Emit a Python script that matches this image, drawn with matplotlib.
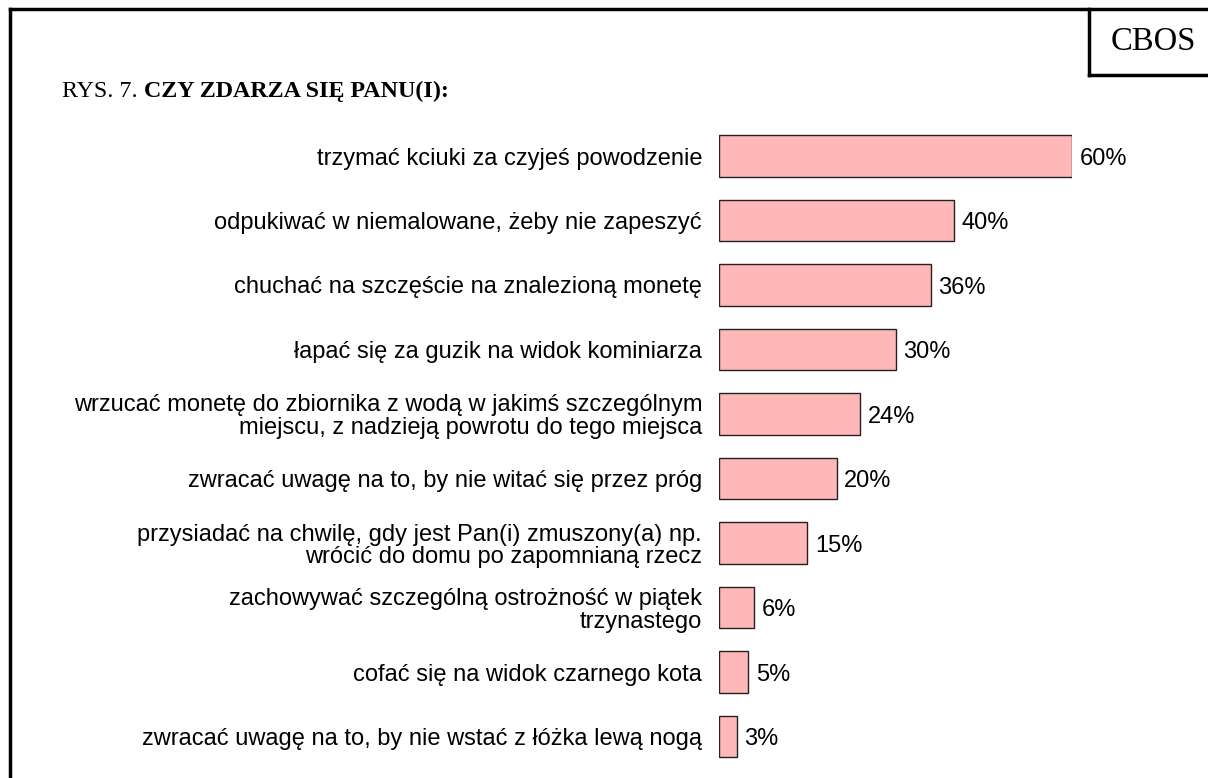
import matplotlib
matplotlib.use("Agg")
import matplotlib.pyplot as plt
from matplotlib.lines import Line2D

categories = [
    "trzymać kciuki za czyjeś powodzenie",
    "odpukiwać w niemalowane, żeby nie zapeszyć",
    "chuchać na szczęście na znalezioną monetę",
    "łapać się za guzik na widok kominiarza",
    "wrzucać monetę do zbiornika z wodą w jakimś szczególnym\nmiejscu, z nadzieją powrotu do tego miejsca",
    "zwracać uwagę na to, by nie witać się przez próg",
    "przysiadać na chwilę, gdy jest Pan(i) zmuszony(a) np.\nwrócić do domu po zapomnianą rzecz",
    "zachowywać szczególną ostrożność w piątek\ntrzynastego",
    "cofać się na widok czarnego kota",
    "zwracać uwagę na to, by nie wstać z łóżka lewą nogą",
]
values = [60, 40, 36, 30, 24, 20, 15, 6, 5, 3]
value_labels = [f"{v}%" for v in values]

W, H = 1208, 778
fig = plt.figure(figsize=(W / 100, H / 100), dpi=100)
fig.patch.set_facecolor("white")

def fx(px):
    return px / W

def fy(py):
    return 1 - py / H

# axes geometry (pixels)
x0, x60 = 719, 1072
yc0, step = 156, 64.5
top = yc0 - step / 2
bottom = yc0 + 9 * step + step / 2
ax = fig.add_axes([fx(x0), fy(bottom), fx(x60) - fx(x0), fy(top) - fy(bottom)])
ax.set_xlim(0, 60)
ax.set_ylim(len(values) - 0.5, -0.5)
ypos = list(range(len(values)))
ax.barh(ypos, values, height=0.65, color="#FFB7B7", edgecolor="#222222", linewidth=1.0)

ax.set_yticks(ypos)
ax.set_yticklabels(categories, fontsize=17, family="Liberation Sans", linespacing=1.05)
ax.tick_params(axis="y", length=0, pad=12.2)
ax.set_xticks([])
for s in ax.spines.values():
    s.set_visible(False)

for y, v, lab in zip(ypos, values, value_labels):
    ax.annotate(lab, xy=(v, y), xytext=(5.5, -2), textcoords="offset points",
                ha="left", va="center", fontsize=17, family="Liberation Sans")

# frame
lw = 2.5
fig.add_artist(Line2D([fx(10), fx(10)], [fy(9), fy(H + 5)], color="black", lw=lw, transform=fig.transFigure))
fig.add_artist(Line2D([fx(10), fx(W + 5)], [fy(9), fy(9)], color="black", lw=lw, transform=fig.transFigure))
# CBOS box
fig.add_artist(Line2D([fx(1089), fx(1089)], [fy(9), fy(75)], color="black", lw=lw, transform=fig.transFigure))
fig.add_artist(Line2D([fx(1089), fx(W + 5)], [fy(75), fy(75)], color="black", lw=lw, transform=fig.transFigure))
fig.text(fx(1153), fy(42), "CBOS", ha="center", va="center", fontsize=23.5, family="Liberation Serif")

# title
t1 = fig.text(fx(62), fy(97), "RYS. 7. ", ha="left", va="baseline", fontsize=17.3, family="Liberation Serif")
ax.annotate("CZY ZDARZA SIĘ PANU(I):", xy=(1, 0), xycoords=t1, xytext=(0, 0), textcoords="offset points",
            ha="left", va="bottom", fontsize=17.3, family="Liberation Serif", fontweight="bold",
            annotation_clip=False)

fig.savefig("out.png", dpi=100)
